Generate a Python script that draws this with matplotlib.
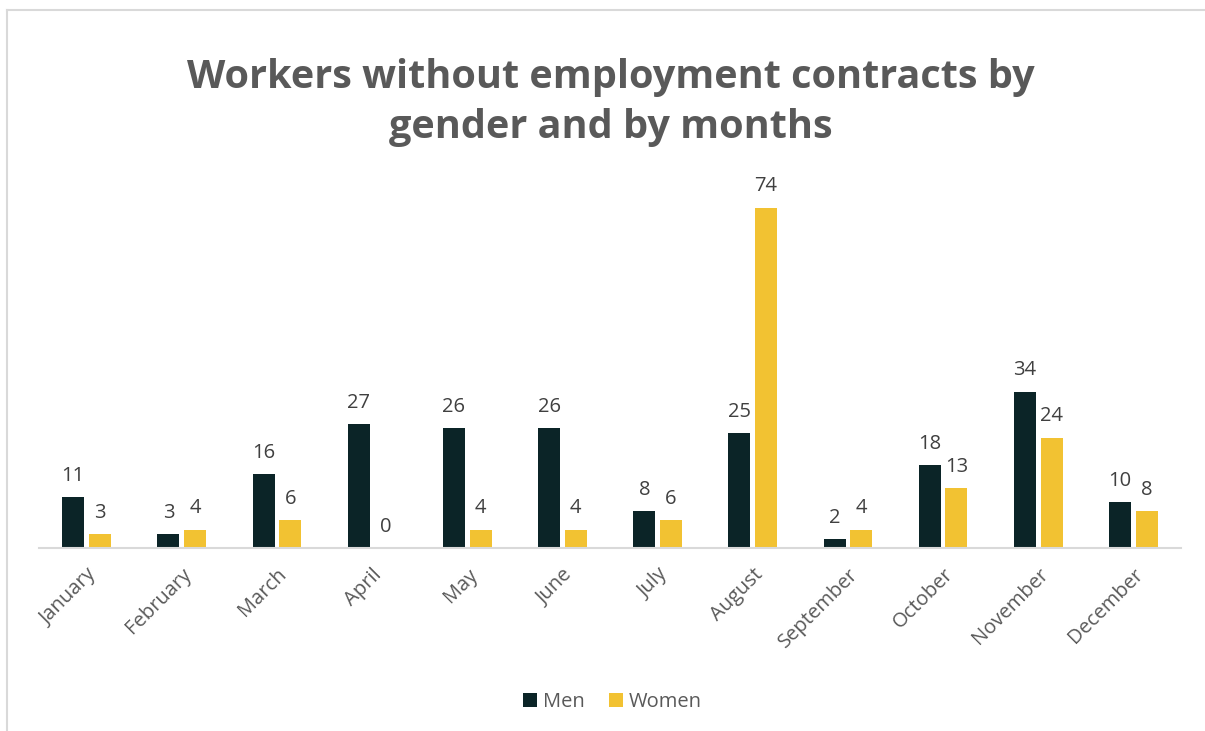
import matplotlib.pyplot as plt
from matplotlib.lines import Line2D
import numpy as np

plt.rcParams['font.family'] = ['Open Sans', 'DejaVu Sans']

months = ['January', 'February', 'March', 'April', 'May', 'June',
          'July', 'August', 'September', 'October', 'November', 'December']
men = [11, 3, 16, 27, 26, 26, 8, 25, 2, 18, 34, 10]
women = [3, 4, 6, 0, 4, 4, 6, 74, 4, 13, 24, 8]

MEN_COLOR = '#0b2427'
WOMEN_COLOR = '#f2c232'


def add_labels(ax, bars, values):
    for bar, v in zip(bars, values):
        ax.annotate(str(v), (bar.get_x() + bar.get_width() / 2, bar.get_height()),
                    xytext=(0, 8), textcoords='offset points',
                    ha='center', va='bottom', fontsize=14.5, color='#404040')


def plot_contracts() -> None:
    fig = plt.figure(figsize=(12.05, 7.31), dpi=100)
    ax = fig.add_axes([39 / 1205, (731 - 548) / 731, 1142 / 1205, 368 / 731])

    x = np.arange(len(months))
    w = 0.23
    b1 = ax.bar(x - 0.14, men, w, color=MEN_COLOR, label='Men')
    b2 = ax.bar(x + 0.14, women, w, color=WOMEN_COLOR, label='Women')
    add_labels(ax, b1, men)
    add_labels(ax, b2, women)

    ax.set_xlim(-0.5, len(months) - 0.5)
    ax.set_ylim(0, 80)
    ax.set_yticks([])
    for side in ['top', 'right', 'left']:
        ax.spines[side].set_visible(False)
    ax.spines['bottom'].set_color('#d9d9d9')
    ax.spines['bottom'].set_linewidth(1.5)

    ax.set_xticks(x)
    ax.set_xticklabels(months, rotation=45, ha='right', rotation_mode='anchor',
                       fontsize=14.5, color='#595959')
    ax.tick_params(axis='x', length=0, pad=12)

    fig.text(0.507, 0.86, 'Workers without employment contracts by\ngender and by months',
             ha='center', va='center', fontsize=28.5, fontweight='bold',
             color='#595959', linespacing=1.35)

    fig.legend(handles=[b1, b2], loc='center', bbox_to_anchor=(0.508, 0.04),
               ncol=2, frameon=False, fontsize=14.5, labelcolor='#595959',
               handlelength=0.7, handleheight=0.7, handletextpad=0.3,
               columnspacing=1.2)

    # light frame along the left and top edges
    fig.add_artist(Line2D([6.5 / 1205, 6.5 / 1205], [0, 1 - 9.5 / 731],
                          color='#d9d9d9', lw=1.5, transform=fig.transFigure))
    fig.add_artist(Line2D([6.5 / 1205, 1], [1 - 9.5 / 731, 1 - 9.5 / 731],
                          color='#d9d9d9', lw=1.5, transform=fig.transFigure))

    fig.savefig('out.png', dpi=100)


if __name__ == '__main__':
    plot_contracts()
